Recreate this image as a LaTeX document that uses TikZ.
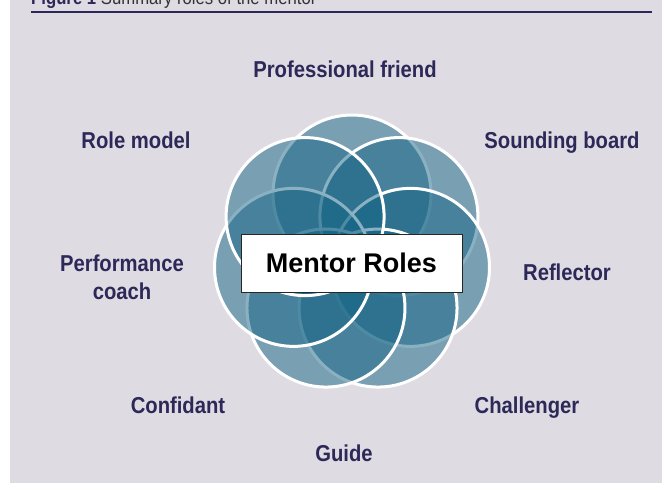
\documentclass[tikz,border=0pt]{standalone}
\usepackage{fontspec}
\setmainfont{Liberation Sans}
\newfontfamily\rolefont{Liberation Sans}[FakeStretch=0.88]
\usetikzlibrary{positioning}

\definecolor{petalblue}{RGB}{22,101,134}
\definecolor{panelgray}{RGB}{222,219,226}
\definecolor{rolenavy}{RGB}{44,40,88}

\begin{document}
\begin{tikzpicture}[x=1pt, y=-1pt,
    petal/.style = {circle, minimum size=158pt, inner sep=0pt,
      fill=petalblue, fill opacity=0.5, draw=white, line width=3pt},
    role/.style  = {font=\rolefont\bfseries\fontsize{23}{28}\selectfont,
      text=rolenavy, align=center, inner sep=0pt},
    rolebox/.style = {draw=black!85, line width=1pt, fill=white,
      minimum width=221pt, minimum height=58pt,
      font=\bfseries\fontsize{27}{30}\selectfont}
  ]
  \useasboundingbox (0,0) rectangle (662,491);
  \clip (0,0) rectangle (662,491);
  \fill[panelgray] (10,0) rectangle (662,483);

  % caption, cut at the top
  \node[anchor=base west, inner sep=0pt, text=black!80,
    font=\rolefont\fontsize{19}{22}\selectfont] (caption) at (31,4)
    {{\bfseries\color{rolenavy}Figure 1} Summary roles of the mentor};
  \draw[rolenavy, line width=2pt] (31,11.5) -- (652,11.5);

  % the flower
  \coordinate (hub) at (352,254);
  \foreach \k in {0,...,6}
    \node[petal] (petal\k) at ([shift={(-90+\k*360/7:60)}]hub) {};

  \node[rolebox] (roles) at (351.5,263) {Mentor Roles};

  \node[role] (friend)    at (345,69)  {Professional friend};
  \node[role] (sounding)  at (562,143) {Sounding board};
  \node[role] (reflector) at (567,272) {Reflector};
  \node[role] (challenger) at (527,408) {Challenger};
  \node[role] (guide)     at (344,453) {Guide};
  \node[role] (confidant) at (178,405) {Confidant};
  \node[role] (coach)     at (122,277) {Performance\\coach};
  \node[role] (model)     at (136,140) {Role model};
\end{tikzpicture}
\end{document}
